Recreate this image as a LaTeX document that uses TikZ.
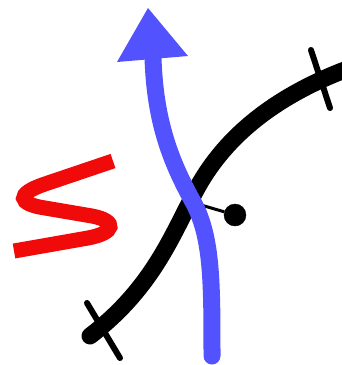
\documentclass[tikz,border=0pt]{standalone}
\usepackage{tikz}
\usetikzlibrary{arrows.meta, positioning, calc}

\definecolor{strandblue}{RGB}{82,82,255}
\definecolor{signred}{RGB}{240,10,10}

\begin{document}
\begin{tikzpicture}[
        x=1pt, y=-1pt,
        wire/.style={line width=17pt, line cap=round, line join=round},
        tick/.style={line width=6pt, line cap=round},
        flow/.style={draw=strandblue, line width=17pt, line cap=round},
        squiggle/.style={draw=signred, line width=15pt},
        knob/.style={draw, circle, fill=black, minimum size=22pt, inner sep=0pt},
    ]
        \useasboundingbox (0,0) rectangle (342,365);

        % black strand with its end ticks
        \draw[wire] (90,336) .. controls (150,290) and (170,240) .. (191,200)
                             .. controls (210,160) and (250,105) .. (350,68);
        \draw[tick] (87,303) -- (120,358);
        \draw[tick] (311,50) -- (330,108);

        % knob on the strand
        \coordinate (hook) at (201,205);
        \node[knob] (knob) at (235,215) {};
        \draw[line width=3pt] (hook) -- (knob);

        % blue strand, drawn over the black one
        \draw[flow] (212,356) .. controls (212,280) and (212,235) .. (192,200)
                              .. controls (170,160) and (155,120) .. (153,58);
        \coordinate (tipl) at (117,62);
        \coordinate (tipr) at (188,56);
        \coordinate (tip)  at (148,8);
        \fill[strandblue] (tipl) -- (tip) -- (tipr) -- cycle;

        % red S
        \draw[squiggle] (113,161) -- (45,184) .. controls (15,194) and (18,204) .. (45,208)
                        -- (92,216) .. controls (118,221) and (115,233) .. (88,238) -- (14,251);
    \end{tikzpicture}
\end{document}
